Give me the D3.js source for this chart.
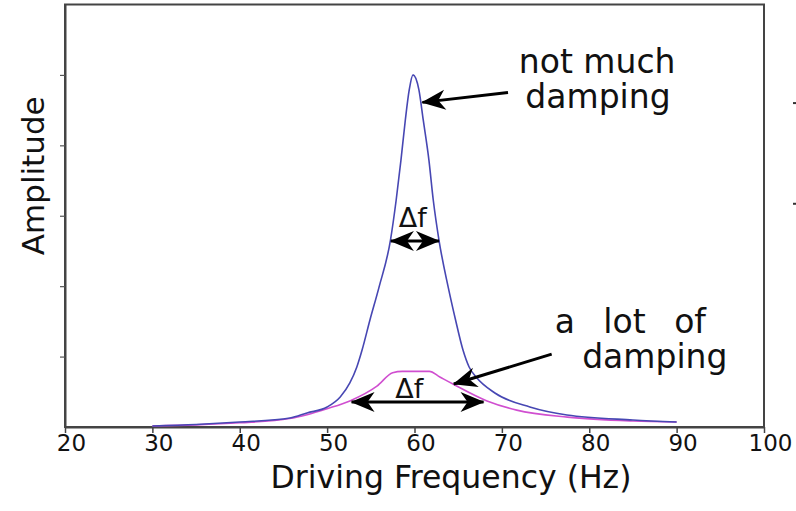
<html>
<head>
<meta charset="utf-8">
<script src="https://d3js.org/d3.v7.min.js"></script>
<style>
body { margin: 0; background: #fff; }
svg text { font-family: "DejaVu Sans", Verdana, sans-serif; fill: #111; }
</style>
</head>
<body>
<svg id="chart" width="796" height="511"></svg>
<script>

// values: frequency (Hz), amplitude (arb. units)
var lowDampFreq = [30, 35, 40, 45.75, 47.7, 50, 51.5, 52.6, 53.4, 54.0, 54.9, 55.95, 57.25, 57.9, 58.45, 58.95, 59.4, 59.83,
                   60.5, 61.0, 61.65, 62.15, 62.8, 63.85, 64.7, 65.55, 66.25, 67.05, 69.2, 73.2, 77.45, 85, 90]
var lowDampAmp  = [0.014, 0.035, 0.07, 0.128, 0.2, 0.284, 0.426, 0.625, 0.852, 1.093, 1.52, 1.99, 2.655, 3.22, 3.79, 4.36, 4.79, 5.0,
                   4.79, 4.36, 3.79, 3.22, 2.655, 1.99, 1.52, 1.093, 0.852, 0.71, 0.483, 0.284, 0.17, 0.1, 0.07]

var highDampFreq = [30, 35, 40, 45.7, 47.7, 50, 52.6, 55.7, 57.5, 58.6, 61.7, 62.9, 64.4, 68.3, 71.7, 77.5, 85, 90]
var highDampAmp  = [0.014, 0.03, 0.06, 0.12, 0.175, 0.26, 0.37, 0.58, 0.77, 0.79, 0.79, 0.71, 0.61, 0.37, 0.24, 0.14, 0.085, 0.07]

var xTicks = [20, 30, 40, 50, 60, 70, 80, 90, 100]
var yTicks = [1, 2, 3, 4, 5]

var svg = d3.select("#chart"),
    margin = {top: 4.5, left: 65, bottom: 84, right: 32},
    width = +svg.attr("width"),
    height = +svg.attr("height")

var x = d3.scaleLinear().domain([20, 100]).range([margin.left, width - margin.right])
var y = d3.scaleLinear().domain([0, 6]).range([height - margin.bottom, margin.top])

// arrow head
var defs = svg.append("defs")
defs.append("marker")
    .attr("id", "head")
    .attr("viewBox", "-24 -11 26 22")
    .attr("refX", 0).attr("refY", 0)
    .attr("markerUnits", "userSpaceOnUse")
    .attr("markerWidth", 26).attr("markerHeight", 22)
    .attr("orient", "auto-start-reverse")
  .append("path")
    .attr("d", "M1,0 L-23,-10 L-16,0 L-23,10 Z")
    .attr("fill", "#000")

// frame
svg.append("rect")
    .attr("x", x(20)).attr("y", y(6))
    .attr("width", x(100) - x(20)).attr("height", y(0) - y(6))
    .attr("fill", "none").attr("stroke", "#444").attr("stroke-width", 2)

var xAxis = svg.append("g")
    .attr("transform", `translate(0,${y(0)})`)
    .call(d3.axisBottom(x).tickValues(xTicks).tickSize(6).tickSizeOuter(0))
xAxis.select(".domain").attr("stroke", "#444").attr("stroke-width", 2)
xAxis.selectAll(".tick line").attr("stroke", "#444").attr("stroke-width", 1.5)
xAxis.selectAll("text")
    .attr("font-size", 23)
    .attr("dx", 6).attr("y", 8)
    .style("font-family", "DejaVu Sans, sans-serif")
    .attr("fill", "#222")

var yAxis = svg.append("g")
    .attr("transform", `translate(${x(20)},0)`)
    .call(d3.axisLeft(y).tickValues(yTicks).tickSize(5).tickSizeOuter(0).tickFormat(""))
yAxis.select(".domain").attr("stroke", "#444").attr("stroke-width", 2)
yAxis.selectAll(".tick line").attr("stroke", "#555").attr("stroke-width", 1.2)

// axis titles
svg.append("text")
    .attr("transform", `translate(44,${(y(0) + y(6)) / 2 - 40}) rotate(-90)`)
    .attr("text-anchor", "middle")
    .attr("font-size", 31)
    .text("Amplitude")

svg.append("text")
    .attr("x", 451).attr("y", 488)
    .attr("text-anchor", "middle")
    .attr("font-size", 31.5)
    .text("Driving Frequency (Hz)")

// curves
var line = d3.line()
    .x(d => x(d[0]))
    .y(d => y(d[1]))
    .curve(d3.curveMonotoneX)

svg.append("path")
    .datum(highDampFreq.map((f, i) => [f, highDampAmp[i]]))
    .attr("d", line)
    .attr("fill", "none").attr("stroke", "#d04fd0").attr("stroke-width", 1.6)

svg.append("path")
    .datum(lowDampFreq.map((f, i) => [f, lowDampAmp[i]]))
    .attr("d", line)
    .attr("fill", "none").attr("stroke", "#4747b3").attr("stroke-width", 1.6)

// annotations
function arrow(f1, a1, f2, a2, both) {
    var p = svg.append("line")
        .attr("x1", x(f1)).attr("y1", y(a1))
        .attr("x2", x(f2)).attr("y2", y(a2))
        .attr("stroke", "#000").attr("stroke-width", 3)
        .attr("marker-end", "url(#head)")
    if (both) p.attr("marker-start", "url(#head)")
}

function label(txt, f, a, size, spacing) {
    svg.append("text")
        .attr("x", x(f)).attr("y", y(a))
        .attr("text-anchor", "middle")
        .attr("font-size", size)
        .style("word-spacing", (spacing || 0) + "px")
        .text(txt)
}

arrow(70.7, 4.75, 60.9, 4.61)
arrow(57.3, 2.64, 62.8, 2.64, true)
arrow(52.8, 0.355, 67.9, 0.355, true)
arrow(75.7, 1.035, 64.5, 0.61)

label("Δf", 59.8, 2.84, 27)
label("Δf", 59.4, 0.41, 27)
label("not much", 80.9, 5.03, 33)
label("damping", 81.0, 4.53, 33)
label("a lot of", 84.7, 1.335, 33, 18)
label("damping", 87.5, 0.84, 33)

// bits of the neighbouring figure at the right edge
svg.selectAll(".stub")
    .data([4.6, 3.17])
  .enter().append("rect")
    .attr("class", "stub")
    .attr("x", 793).attr("y", d => y(d) - 1)
    .attr("width", 3).attr("height", 2)
    .attr("fill", "#333")

</script>
</body>
</html>
